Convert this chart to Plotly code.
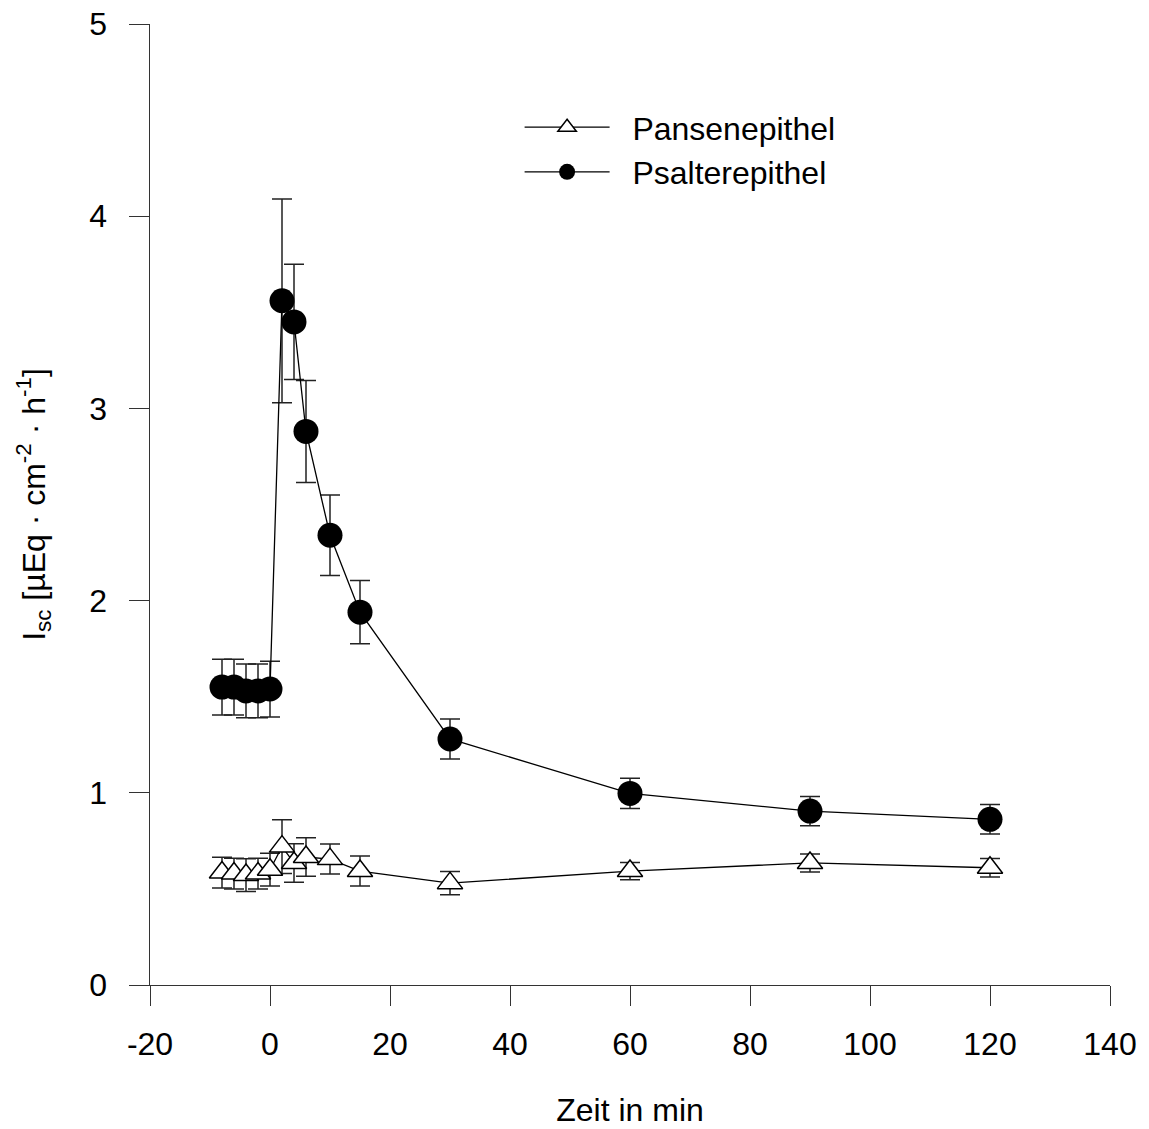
import plotly.graph_objects as go

time_min = [-8, -6, -4, -2, 0, 2, 4, 6, 10, 15, 30, 60, 90, 120]

psalter_y = [1.55, 1.55, 1.53, 1.53, 1.54, 3.56, 3.45, 2.88, 2.34, 1.94, 1.28, 0.997, 0.905, 0.862]
psalter_err = [0.145, 0.145, 0.14, 0.14, 0.145, 0.53, 0.30, 0.265, 0.21, 0.165, 0.104, 0.079, 0.076, 0.077]

pansen_y = [0.585, 0.58, 0.572, 0.58, 0.60, 0.72, 0.635, 0.666, 0.655, 0.593, 0.53, 0.593, 0.635, 0.61]
pansen_err = [0.08, 0.08, 0.085, 0.08, 0.085, 0.14, 0.10, 0.10, 0.078, 0.078, 0.06, 0.045, 0.047, 0.048]

x_ticks = [-20, 0, 20, 40, 60, 80, 100, 120, 140]
y_ticks = [0, 1, 2, 3, 4, 5]

FONT = "Liberation Sans, Arial, sans-serif"
FS = 32
NB = "\u00a0"

fig = go.Figure()

fig.add_trace(go.Scatter(
    x=time_min, y=pansen_y, name=NB * 2 + "Pansenepithel", mode="lines+markers",
    line=dict(color="black", width=1.3),
    marker=dict(symbol="triangle-up", size=22, color="white",
                line=dict(color="black", width=1.5)),
    error_y=dict(type="data", array=pansen_err, visible=True,
                 color="#222222", thickness=1.5, width=10),
))

fig.add_trace(go.Scatter(
    x=time_min, y=psalter_y, name=NB * 2 + "Psalterepithel", mode="lines+markers",
    line=dict(color="black", width=1.3),
    marker=dict(symbol="circle", size=25, color="black",
                line=dict(color="black", width=0)),
    error_y=dict(type="data", array=psalter_err, visible=True,
                 color="#222222", thickness=1.5, width=10),
))

axis_common = dict(
    showgrid=False, zeroline=False, showline=True, linecolor="#333333",
    linewidth=1.3, ticks="outside", ticklen=20, tickwidth=1.3,
    tickcolor="#333333", tickfont=dict(size=FS, family=FONT, color="black"),
    ticklabeloverflow="allow", automargin=False,
)

fig.update_layout(
    width=1149, height=1129,
    margin=dict(l=142, r=47, t=16, b=152),
    plot_bgcolor="white", paper_bgcolor="white",
    font=dict(family=FONT, size=FS, color="black"),
    showlegend=True,
    legend=dict(x=0.385, y=0.921, xanchor="left", yanchor="top",
                bgcolor="rgba(0,0,0,0)", font=dict(size=FS, family=FONT),
                itemwidth=85, tracegroupgap=0, traceorder="normal"),
    xaxis=dict(range=[-20, 140], tickvals=x_ticks, ticktext=[str(v) for v in x_ticks],
               ticklabelstandoff=10,
               title=dict(text="Zeit in min", font=dict(size=FS, family=FONT), standoff=38),
               **axis_common),
    yaxis=dict(range=[0, 5], tickvals=y_ticks,
               ticktext=[str(v) + NB + "\u2009" for v in y_ticks],
               title=dict(text="I<sub>sc</sub> [µEq · cm<sup>-2</sup> · h<sup>-1</sup>]",
                          font=dict(size=FS, family=FONT), standoff=34),
               **axis_common),
)

fig.write_html("out.html")
